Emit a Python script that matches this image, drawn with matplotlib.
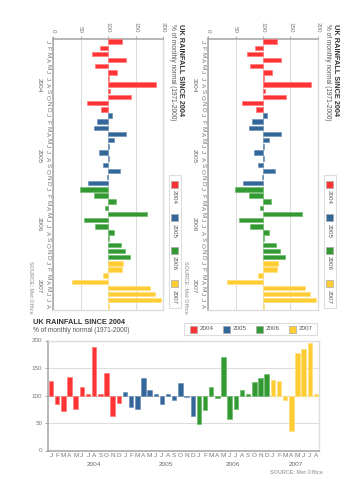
import numpy as np
import matplotlib.pyplot as plt
from matplotlib.patches import Rectangle

plt.rcParams['font.family'] = ['Liberation Sans', 'DejaVu Sans']

# monthly rainfall, % of 1971-2000 normal
months = list('JFMAMJJASOND') * 3 + list('JFMAMJJA')
years = ['2004', '2005', '2006', '2007']
rain_2004 = [126, 85, 71, 133, 76, 116, 102, 188, 103, 141, 62, 87]
rain_2005 = [107, 80, 75, 132, 110, 102, 84, 102, 91, 122, 98, 63]
rain_2006 = [49, 74, 115, 95, 170, 57, 76, 110, 102, 124, 131, 140]
rain_2007 = [128, 126, 91, 35, 177, 185, 196, 102]
value_ticks = [0, 50, 100, 150, 200]

year_colors = ['#ff3333', '#336699', '#339933', '#ffcc33']
year_edges = ['#ff7a7a', '#6f93b8', '#6fbb6f', '#ffe07a']
year_label_pos = [7.0, 18.6, 29.6, 39.7]

per_year = [rain_2004, rain_2005, rain_2006, rain_2007]
rain = np.array(sum(per_year, []), dtype=float)
bar_col = sum([[c] * len(v) for c, v in zip(year_colors, per_year)], [])
bar_edge = sum([[c] * len(v) for c, v in zip(year_edges, per_year)], [])
idx = np.arange(len(rain))

FW, FH = 353, 500
PW, PH = 271, 110          # plot size in the unrotated frame (px)
DARK = '#999999'
LIGHT = '#dddddd'
TXT = '#555555'

fig = plt.figure(figsize=(FW / 100, FH / 100), dpi=100)


def frac_rect(x, y, w, h):
    return [x / FW, 1 - (y + h) / FH, w / FW, h / FH]


def put(anchor, rot, du, dv, s, **kw):
    x, y = anchor
    px, py = (x - dv, y + du) if rot else (x + du, y + dv)
    fig.text(px / FW, 1 - py / FH, s, rotation=-90 if rot else 0,
             rotation_mode='anchor', **kw)


def box(anchor, rot, du0, dv0, du1, dv1, **kw):
    x, y = anchor
    if rot:
        x0, x1, y0, y1 = x - dv1, x - dv0, y + du0, y + du1
    else:
        x0, x1, y0, y1 = x + du0, x + du1, y + dv0, y + dv1
    fig.patches.append(Rectangle((x0 / FW, 1 - y1 / FH), (x1 - x0) / FW,
                                 (y1 - y0) / FH, transform=fig.transFigure, **kw))


def draw(anchor, rot):
    x, y = anchor
    if rot:
        ax = fig.add_axes(frac_rect(x - PH, y, PH, PW))
        ax.barh(idx, rain - 100, left=100, height=0.72, color=bar_col,
                edgecolor=bar_edge, linewidth=0.5, zorder=3)
        ax.set_xlim(0, 200)
        ax.set_ylim(len(rain) - 0.5, -0.5)
        ax.set_xticks(value_ticks)
        ax.set_yticks(idx, months)
        ax.xaxis.tick_top()
        ax.tick_params(axis='x', labelrotation=-90, length=2.5, width=0.6,
                       color=DARK, labelsize=4.5, labelcolor='#777777', pad=1.5)
        ax.tick_params(axis='y', labelrotation=-90, length=0, labelsize=4.6,
                       labelcolor='#777777', pad=2)
        ax.grid(axis='x', color=LIGHT, linewidth=0.8, zorder=0)
        dark_sp, light_sp = ['top', 'left'], ['bottom', 'right']
        for yr, p in zip(years, year_label_pos):
            ax.annotate(yr, xy=(0, p), xycoords=('axes fraction', 'data'),
                        xytext=(-14, 0), textcoords='offset pixels',
                        rotation=-90, ha='center', va='center',
                        fontsize=4.6, color='#666666')
    else:
        ax = fig.add_axes(frac_rect(x, y, PW, PH))
        ax.bar(idx, rain - 100, bottom=100, width=0.72, color=bar_col,
               edgecolor=bar_edge, linewidth=0.5, zorder=3)
        ax.set_ylim(0, 200)
        ax.set_xlim(-0.5, len(rain) - 0.5)
        ax.set_yticks(value_ticks)
        ax.set_xticks(idx, months)
        ax.tick_params(axis='y', length=2.5, width=0.6, color=DARK,
                       labelsize=4.5, labelcolor='#777777', pad=1.5)
        ax.tick_params(axis='x', length=0, labelsize=4.6,
                       labelcolor='#777777', pad=2)
        ax.grid(axis='y', color=LIGHT, linewidth=0.8, zorder=0)
        dark_sp, light_sp = ['left', 'bottom'], ['top', 'right']
        for yr, p in zip(years, year_label_pos):
            ax.annotate(yr, xy=(p, 0), xycoords=('data', 'axes fraction'),
                        xytext=(0, -14), textcoords='offset pixels',
                        ha='center', va='center', fontsize=4.6, color='#666666')
    for s in dark_sp:
        ax.spines[s].set_color('#aaaaaa')
        ax.spines[s].set_linewidth(1.2)
    for s in light_sp:
        ax.spines[s].set_color(LIGHT)
        ax.spines[s].set_linewidth(1.0)

    # title block
    put(anchor, rot, -15, -17.5, 'UK RAINFALL SINCE 2004', ha='left', va='center',
        fontsize=5.3, fontweight='bold', color='#333333')
    put(anchor, rot, -15, -9.5, '% of monthly normal (1971-2000)', ha='left',
        va='center', fontsize=4.7, color=TXT)
    # legend
    box(anchor, rot, 136, -17.5, 269, -5.5, facecolor='white', edgecolor=LIGHT,
        linewidth=0.8)
    for i, (yr, c) in enumerate(zip(years, year_colors)):
        d0 = 142 + 33 * i
        box(anchor, rot, d0, -15, d0 + 7, -8, facecolor=c, edgecolor='#aaaaaa',
            linewidth=0.5)
        put(anchor, rot, d0 + 10, -11.5, yr, ha='left', va='center',
            fontsize=4.5, color=TXT)
    # source
    put(anchor, rot, 275, 132.5, 'SOURCE: Met Office', ha='right', va='center',
        fontsize=3.9, fontweight='bold', color='#aaaaaa')


draw((163, 38.5), True)
draw((318, 38.5), True)
draw((48, 340.5), False)

fig.savefig('out.png', dpi=100)
